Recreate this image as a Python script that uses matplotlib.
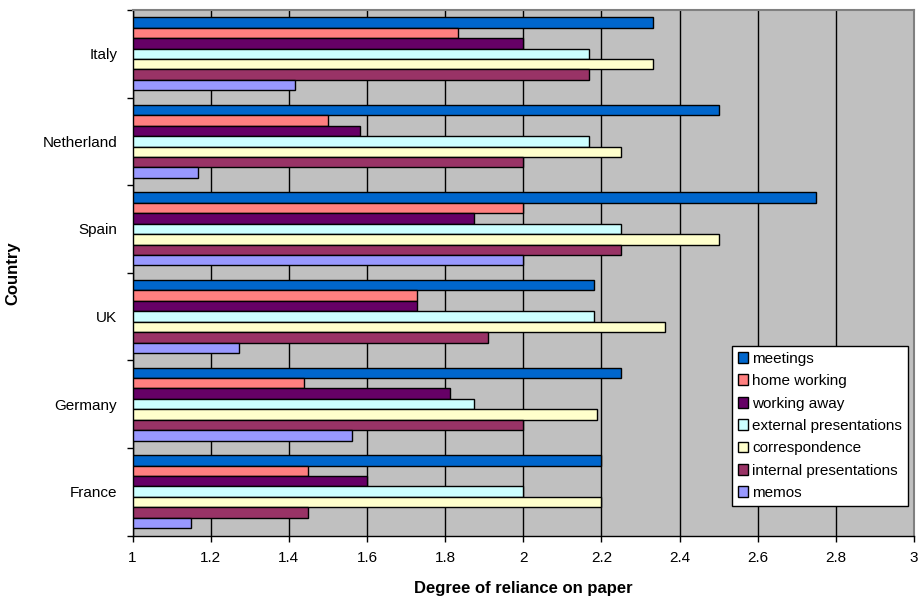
import matplotlib
matplotlib.use("Agg")
import matplotlib.pyplot as plt
import numpy as np

plt.rcParams['font.family'] = ['Liberation Sans', 'DejaVu Sans']

countries = ["France", "Germany", "UK", "Spain", "Netherland", "Italy"]
series = ["meetings", "home working", "working away", "external presentations",
          "correspondence", "internal presentations", "memos"]
colors = ["#0066CC", "#FF8080", "#660066", "#CCFFFF", "#FFFFCC", "#993366", "#9999FF"]

meetings = [2.20, 2.25, 2.182, 2.75, 2.50, 2.333]
home_working = [1.45, 1.438, 1.727, 2.00, 1.50, 1.833]
working_away = [1.60, 1.813, 1.727, 1.875, 1.583, 2.00]
external_presentations = [2.00, 1.875, 2.182, 2.25, 2.167, 2.167]
correspondence = [2.20, 2.188, 2.364, 2.50, 2.25, 2.333]
internal_presentations = [1.45, 2.00, 1.909, 2.25, 2.00, 2.167]
memos = [1.15, 1.5625, 1.273, 2.00, 1.167, 1.417]

data = [meetings, home_working, working_away, external_presentations,
        correspondence, internal_presentations, memos]

fig = plt.figure(figsize=(9.18, 5.99), dpi=100)
ax = fig.add_axes([132.5/918, 1 - 535.5/599, (914 - 132.5)/918, (535.5 - 10)/599])
ax.set_facecolor("#C0C0C0")

n = len(series)
bar_h = 1.0 / (n + 1.4)
base = 1.0
y = np.arange(len(countries))
for i, (name, vals, c) in enumerate(zip(series, data, colors)):
    offs = (n - 1) / 2 - i
    pos = y + offs * bar_h
    ax.barh(pos, np.array(vals) - base, left=base, height=bar_h, color=c,
            edgecolor="black", linewidth=1.0, label=name, zorder=3)

ax.set_xlim(1, 3)
ax.set_ylim(-0.5, len(countries) - 0.5)
ax.set_xticks(np.arange(1, 3.01, 0.2))
ax.set_xticklabels(["1", "1.2", "1.4", "1.6", "1.8", "2", "2.2", "2.4", "2.6", "2.8", "3"])
ax.set_yticks(y)
ax.set_yticklabels(countries)
ax.set_yticks(np.arange(-0.5, len(countries), 1.0), minor=True)
ax.tick_params(axis='y', which='major', length=0, pad=11, labelsize=11)
ax.tick_params(axis='y', which='minor', length=4, width=1, direction='out')
ax.tick_params(axis='x', which='major', length=4, width=1, direction='out', labelsize=11, pad=7)

ax.grid(axis='x', color='black', linewidth=1.0, zorder=0)
ax.set_axisbelow(True)
for s in ['left', 'bottom']:
    ax.spines[s].set_color('black')
    ax.spines[s].set_linewidth(1.0)
for s in ['top', 'right']:
    ax.spines[s].set_color('#808080')
    ax.spines[s].set_linewidth(1.5)

ax.set_xlabel("Degree of reliance on paper", fontsize=12, fontweight='bold', labelpad=12)
ax.set_ylabel("Country", fontsize=12, fontweight='bold')
ax.yaxis.set_label_coords((20 - 132.5) / (914 - 132.5), 0.5)

leg = ax.legend(loc='lower right', bbox_to_anchor=(908.3/918, 1 - 506.3/599),
                bbox_transform=fig.transFigure, fontsize=11, frameon=True,
                fancybox=False, edgecolor='black', framealpha=1,
                handlelength=0.7, handleheight=0.7, handletextpad=0.25,
                borderpad=0.4, labelspacing=0.55, borderaxespad=0)
leg.get_frame().set_linewidth(1.0)

fig.savefig("out.png", dpi=100)
